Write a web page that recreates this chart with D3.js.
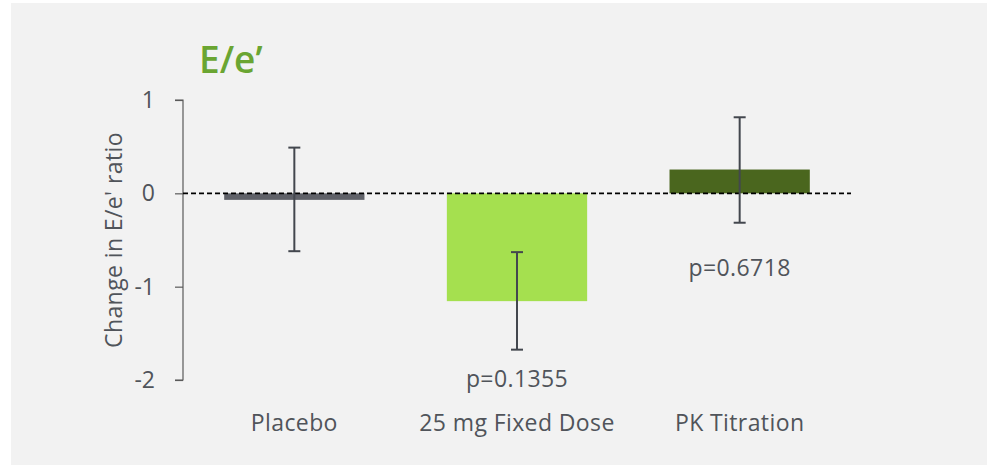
<!DOCTYPE html>
<html><head><meta charset="utf-8">
<script src="https://cdn.jsdelivr.net/npm/d3@7"></script>
<style>html,body{margin:0;padding:0;background:#fff;}svg{display:block;}</style>
</head><body>
<svg id="c" width="987" height="465"></svg>
<script>
const categories = ["Placebo", "25 mg Fixed Dose", "PK Titration"];
const values = [-0.07, -1.155, 0.255];
const errLow = [-0.62, -1.675, -0.315];
const errHigh = [0.49, -0.63, 0.815];
const pLabels = ["", "p=0.1355", "p=0.6718"];
const pLabelAt = [0, -2.07, -0.885];
const barColors = ["#5f6168", "#a5e04f", "#4a661e"];
const yTicks = [1, 0, -1, -2];
const title = "E/e\u2019";
const yLabel = "Change in E/e' ratio";

const svg = d3.select("#c");
const font = "'Open Sans', 'Noto Sans', sans-serif";
const textColor = "#50545a";
svg.append("rect").attr("x", 11).attr("y", 3).attr("width", 976).attr("height", 462).attr("fill", "#f2f2f2");

const x = d3.scaleBand().domain(categories).range([183, 851]).paddingInner(0.37).paddingOuter(0.185);
const y = d3.scaleLinear().domain([-2, 1]).range([380, 100]);

// axis
const ax = svg.append("g").attr("transform", "translate(183,0)")
  .call(d3.axisLeft(y).tickValues(yTicks).tickFormat(d => String(d)).tickSize(8).tickPadding(20));
ax.select(".domain").attr("stroke", "#5a5a5a").attr("stroke-width", 1.2).attr("d", `M-8,${y(1)}H0V${y(-2)}H-8`);
ax.selectAll(".tick line").attr("stroke", "#5a5a5a").attr("stroke-width", 1.2);
ax.selectAll(".tick text").attr("font-family", font).attr("font-size", 23).attr("fill", textColor);

// bars
svg.selectAll(".bar").data(categories).enter().append("rect")
  .attr("x", d => x(d)).attr("width", x.bandwidth())
  .attr("y", (d, i) => y(Math.max(0, values[i])))
  .attr("height", (d, i) => Math.abs(y(values[i]) - y(0)))
  .attr("fill", (d, i) => barColors[i]);

// zero dashed line
svg.append("line").attr("x1", 183).attr("x2", 851).attr("y1", y(0)).attr("y2", y(0))
  .attr("stroke", "#000").attr("stroke-width", 1.6).attr("stroke-dasharray", "5,3");

// error bars
const eg = svg.selectAll(".err").data(categories).enter().append("g")
  .attr("stroke", "#43474e").attr("stroke-width", 2);
eg.append("line").attr("x1", d => x(d) + x.bandwidth() / 2).attr("x2", d => x(d) + x.bandwidth() / 2)
  .attr("y1", (d, i) => y(errHigh[i])).attr("y2", (d, i) => y(errLow[i]));
eg.append("line").attr("x1", d => x(d) + x.bandwidth() / 2 - 6).attr("x2", d => x(d) + x.bandwidth() / 2 + 6)
  .attr("y1", (d, i) => y(errHigh[i])).attr("y2", (d, i) => y(errHigh[i]));
eg.append("line").attr("x1", d => x(d) + x.bandwidth() / 2 - 6).attr("x2", d => x(d) + x.bandwidth() / 2 + 6)
  .attr("y1", (d, i) => y(errLow[i])).attr("y2", (d, i) => y(errLow[i]));

// p-values
svg.selectAll(".pv").data(categories).enter().append("text")
  .attr("x", d => x(d) + x.bandwidth() / 2)
  .attr("y", (d, i) => y(pLabelAt[i]))
  .attr("text-anchor", "middle").attr("font-family", font).attr("font-size", 23).attr("letter-spacing", 0.4)
  .attr("fill", textColor)
  .text((d, i) => pLabels[i]);

// category labels
svg.selectAll(".cat").data(categories).enter().append("text")
  .attr("x", d => x(d) + x.bandwidth() / 2).attr("y", 431)
  .attr("text-anchor", "middle").attr("font-family", font).attr("font-size", 23).attr("letter-spacing", 0.4)
  .attr("fill", textColor)
  .text(d => d);

// title
svg.append("text").attr("x", 199).attr("y", 73).attr("font-family", font).attr("font-size", 37)
  .attr("font-weight", 600).attr("fill", "#6aa532").text(title);

// y label
svg.append("text").attr("transform", "translate(122,240) rotate(-90)").attr("text-anchor", "middle")
  .attr("font-family", font).attr("font-size", 23).attr("letter-spacing", 0.4).attr("fill", textColor).text(yLabel);
</script>
</body></html>
